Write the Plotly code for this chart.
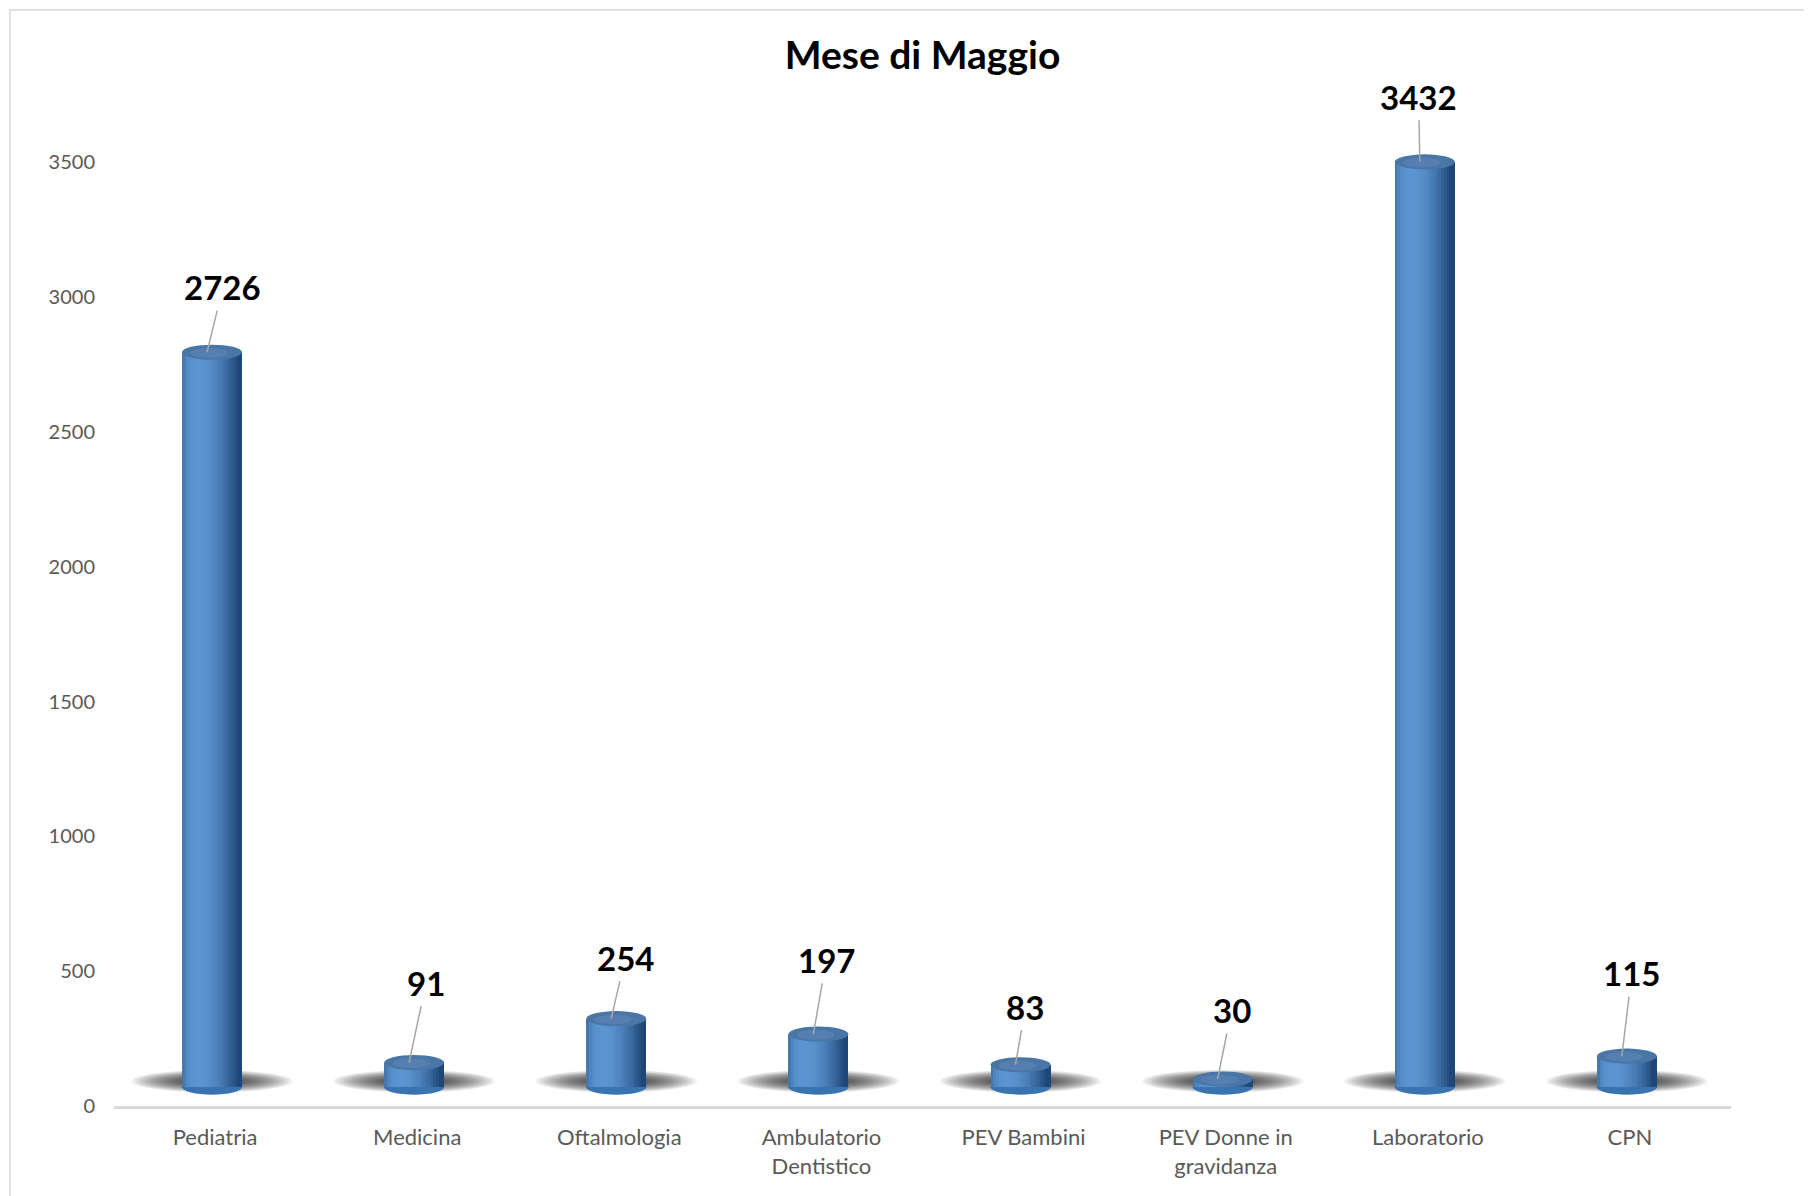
import math
import plotly.graph_objects as go

# ---------------- data ----------------
CATEGORIES = ["Pediatria", "Medicina", "Oftalmologia", "Ambulatorio Dentistico",
              "PEV Bambini", "PEV Donne in gravidanza", "Laboratorio", "CPN"]
TICK_LABELS = ["Pediatria", "Medicina", "Oftalmologia", "Ambulatorio<br>Dentistico",
               "PEV Bambini", "PEV Donne in<br>gravidanza", "Laboratorio", "CPN"]
VALUES = [2726, 91, 254, 197, 83, 30, 3432, 115]
Y_TICKS = [0, 500, 1000, 1500, 2000, 2500, 3000, 3500]
TITLE = "Mese di Maggio"

# ---------------- style ----------------
# the page body has an 8px default margin, so the figure is 8px smaller
FIG_W, FIG_H = 1804, 1188
M_L, M_R, M_T, M_B = 106, 81, 87, 90
Y_MAX = 3750
FLOOR = 70          # lift of the 3D floor, value units
CYL_W = 0.297       # cylinder width, category units
CYL_SHIFT = -0.015
ELL_RY = 28         # half-height of the cylinder end ellipses, value units
N_STRIPS = 22
LABEL_DX = [16, 17, 14, 13, 10, 14, -1, 10]
LABEL_DY = [-65, -80, -61, -74, -58, -69, -65, -83]
FONT = "Lato"

DARK = (30, 70, 118)
LIGHT = (92, 150, 210)
LX, LZ = -0.45, 0.89
ln = math.hypot(LX, LZ)
LX, LZ = LX / ln, LZ / ln


def shade(t):
    nz = math.sqrt(max(0.0, 1 - t * t))
    d = max(0.0, t * LX + nz * LZ)
    d = d ** 1.3
    c = [int(DARK[k] + (LIGHT[k] - DARK[k]) * d) for k in range(3)]
    return "rgb(%d,%d,%d)" % tuple(c)


fig = go.Figure()

# cylinder bodies: vertical strips emulating the cylindrical shading
step = CYL_W / N_STRIPS
for j in range(N_STRIPS):
    left = -CYL_W / 2 + j * step
    width = min(step * 1.8, CYL_W / 2 - left)
    t = (left + step / 2) / (CYL_W / 2)
    fig.add_trace(go.Bar(
        x=CATEGORIES, y=VALUES, base=FLOOR,
        offset=left + CYL_SHIFT, width=width,
        marker=dict(color=shade(t), line=dict(width=0)),
        hoverinfo="skip", showlegend=False,
    ))

shapes = []
# floor shadows (soft, many translucent layers)
N_SH = 22
for i, v in enumerate(VALUES):
    cx = i + CYL_SHIFT
    cy = FLOOR + 22
    for k in range(N_SH):
        f = 1 - k / N_SH
        rx = 0.12 + 0.28 * f
        ry = 8 + 34 * f
        shapes.append(dict(
            type="circle", xref="x", yref="y", layer="below",
            x0=cx - rx, x1=cx + rx, y0=cy - ry, y1=cy + ry,
            fillcolor="rgba(25,25,25,0.05)", line=dict(width=0),
        ))
# bottom rims
for i, v in enumerate(VALUES):
    cx = i + CYL_SHIFT
    shapes.append(dict(
        type="circle", xref="x", yref="y", layer="below",
        x0=cx - CYL_W / 2, x1=cx + CYL_W / 2,
        y0=FLOOR - ELL_RY, y1=FLOOR + ELL_RY,
        fillcolor="#3a74b0", line=dict(width=0),
    ))
# top ellipses (above traces)
for i, v in enumerate(VALUES):
    cx = i + CYL_SHIFT
    top = v + FLOOR
    shapes.append(dict(
        type="circle", xref="x", yref="y", layer="above",
        x0=cx - CYL_W / 2, x1=cx + CYL_W / 2,
        y0=top - ELL_RY, y1=top + ELL_RY,
        fillcolor="#4a76a6", line=dict(width=0),
    ))
    shapes.append(dict(
        type="circle", xref="x", yref="y", layer="above",
        x0=cx - CYL_W * 0.36, x1=cx + CYL_W * 0.26,
        y0=top - ELL_RY * 0.75, y1=top + ELL_RY * 0.55,
        fillcolor="rgba(110,150,200,0.30)", line=dict(width=0),
    ))

# chart frame
pw = FIG_W - M_L - M_R
ph = FIG_H - M_T - M_B
shapes.append(dict(
    type="rect", xref="paper", yref="paper", layer="below",
    x0=(2 - M_L) / pw, x1=(FIG_W + 5 - M_L) / pw,
    y0=1 + (M_T - 2) / ph, y1=-(M_B + 5) / ph,
    line=dict(color="#d9d9d9", width=1.5), fillcolor="rgba(0,0,0,0)",
))

annotations = []
for i, v in enumerate(VALUES):
    annotations.append(dict(
        x=i - 0.04, y=v + FLOOR, xref="x", yref="y",
        text="<b>%d</b>" % v, showarrow=True, arrowhead=0,
        arrowcolor="#a6a6a6", arrowwidth=1.5,
        ax=LABEL_DX[i], ay=LABEL_DY[i], standoff=0, startstandoff=2,
        font=dict(family=FONT, size=33, color="#000000"),
    ))

fig.update_layout(
    width=FIG_W, height=FIG_H,
    margin=dict(l=M_L, r=M_R, t=M_T, b=M_B),
    paper_bgcolor="white", plot_bgcolor="white",
    barmode="overlay", bargap=0,
    title=dict(text="<b>%s</b>" % TITLE, x=0.5, xref="paper", xanchor="center",
               y=1 - 47 / FIG_H, yref="container", yanchor="middle",
               font=dict(family=FONT, size=39, color="#000000")),
    font=dict(family=FONT),
    shapes=shapes, annotations=annotations,
    showlegend=False,
)
fig.update_xaxes(
    type="category", categoryorder="array", categoryarray=CATEGORIES,
    tickvals=CATEGORIES, ticktext=TICK_LABELS,
    range=[-0.5, len(CATEGORIES) - 0.5],
    showline=True, linecolor="#d9d9d9", linewidth=2.5,
    showgrid=False, zeroline=False, ticks="",
    ticklabelstandoff=10,
    tickfont=dict(family=FONT, size=22, color="#595959"),
)
fig.update_yaxes(
    range=[0, Y_MAX], tickvals=Y_TICKS, ticktext=[str(t) for t in Y_TICKS],
    showline=False, showgrid=False, zeroline=False, ticks="",
    ticklabelstandoff=18,
    tickfont=dict(family=FONT, size=20, color="#595959"),
)

fig.write_html("out.html")
